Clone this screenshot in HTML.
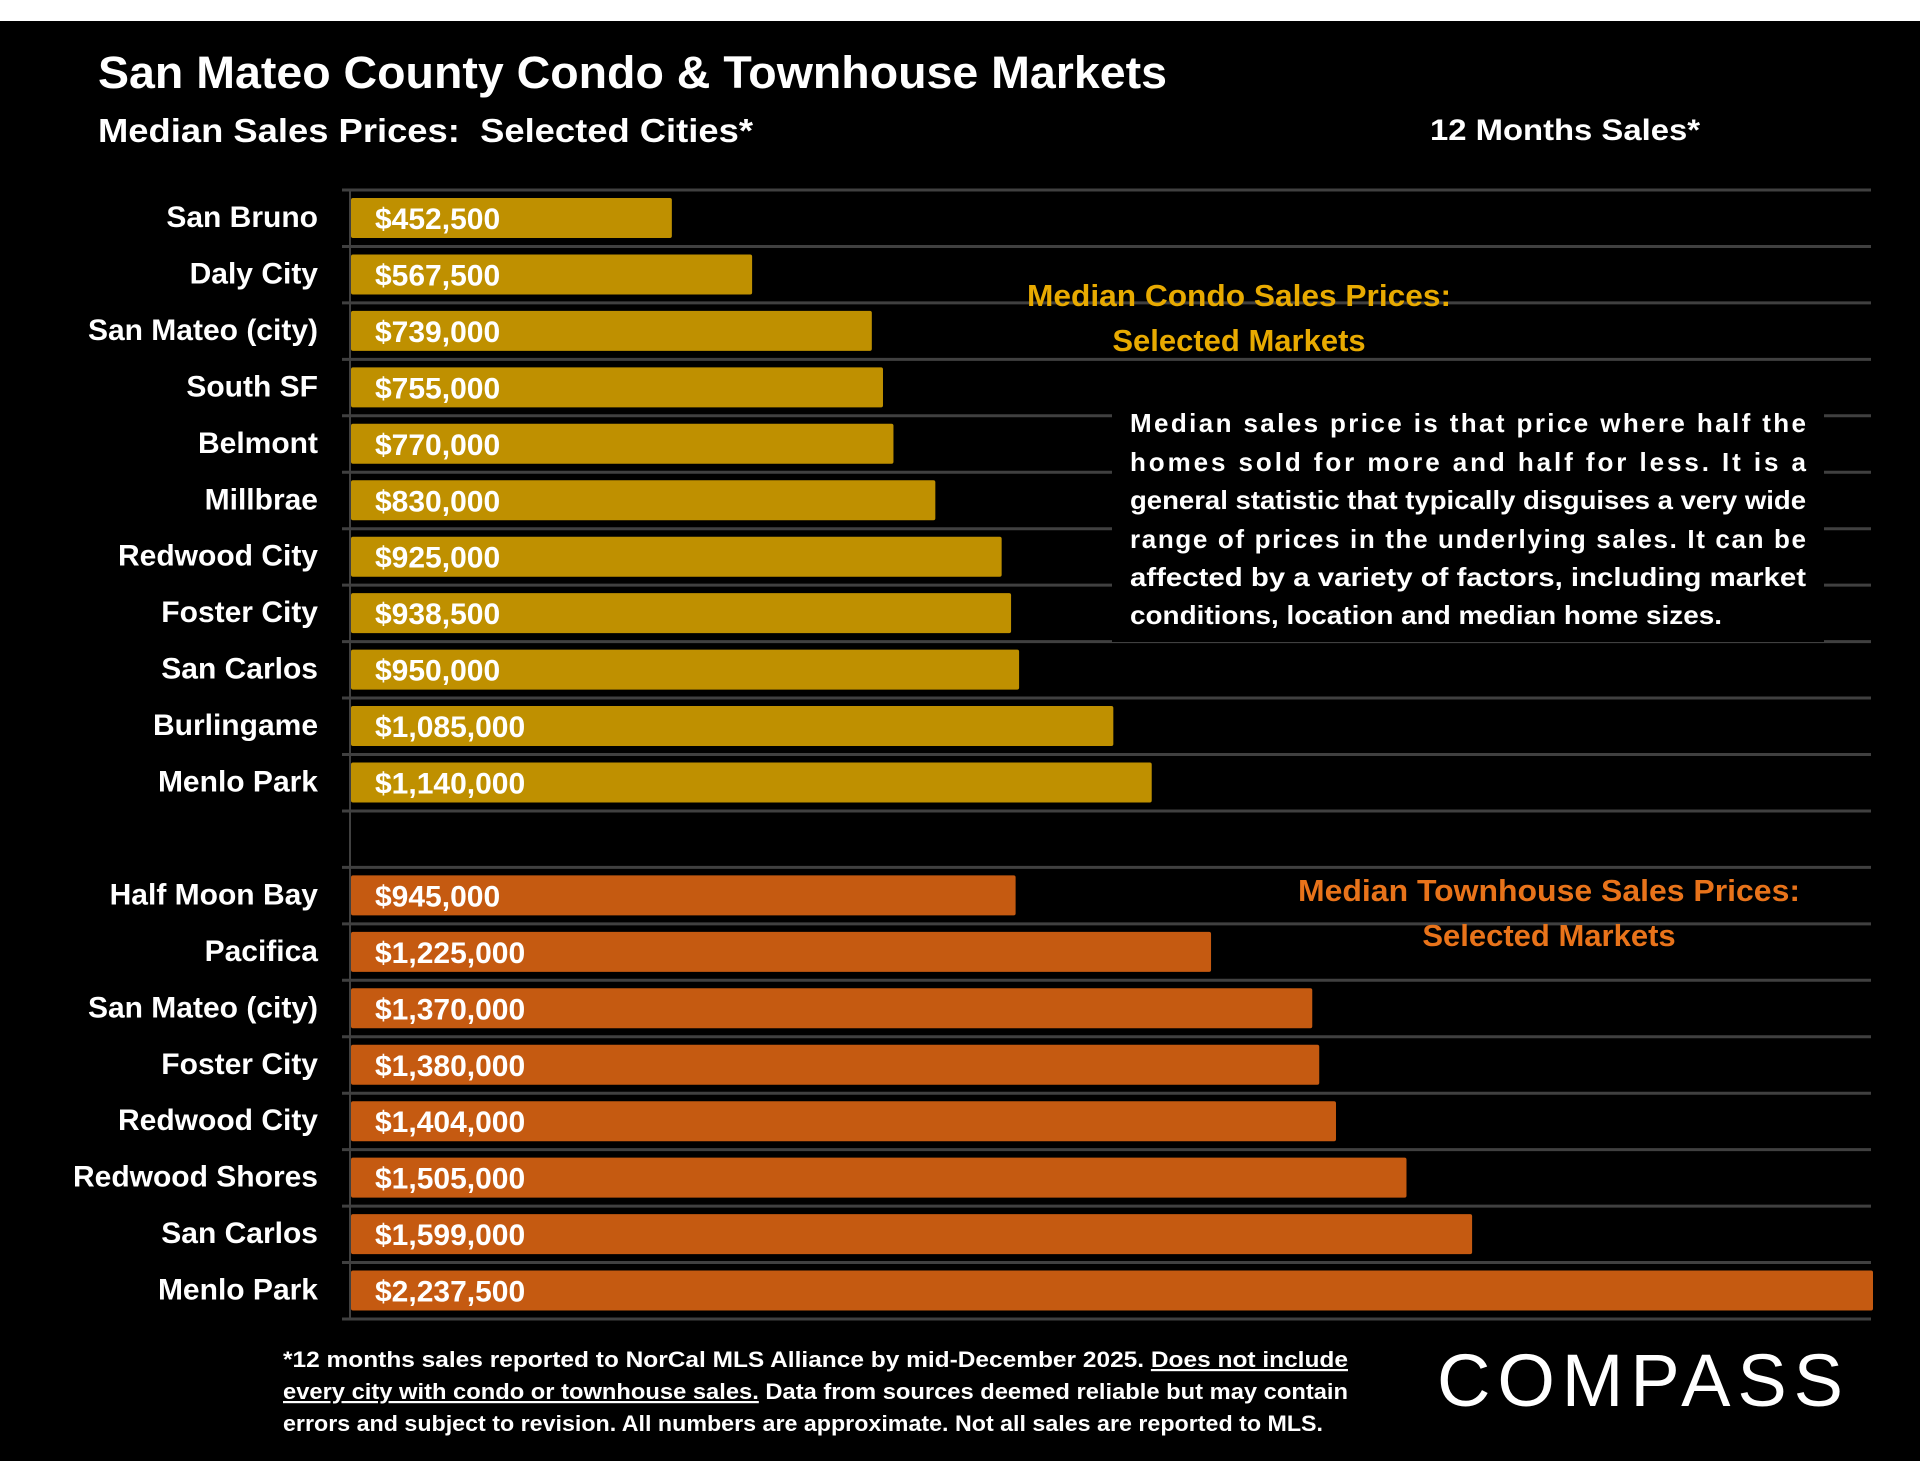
<!DOCTYPE html>
<html><head><meta charset="utf-8"><style>
html,body{margin:0;padding:0;background:#fff;}
svg{display:block;}
text{font-family:"Liberation Sans",sans-serif;}
</style></head><body>
<svg id="chart" width="1920" height="1483" viewBox="0 0 1920 1483" xmlns="http://www.w3.org/2000/svg">
<rect x="0" y="0" width="1920" height="21" fill="#fff"/>
<rect x="0" y="21" width="1920" height="1440" fill="#000"/>
<rect x="0" y="1461" width="1920" height="22" fill="#fff"/>
<text x="98" y="88" fill="#fff" font-size="45" font-weight="bold" textLength="1069" lengthAdjust="spacingAndGlyphs">San Mateo County Condo &amp; Townhouse Markets</text>
<text x="98" y="142" fill="#fff" font-size="33" font-weight="bold" textLength="655" lengthAdjust="spacingAndGlyphs" xml:space="preserve">Median Sales Prices:  Selected Cities*</text>
<text x="1430" y="140" fill="#fff" font-size="30" font-weight="bold" textLength="270" lengthAdjust="spacingAndGlyphs">12 Months Sales*</text>
<g id="grid"></g>
<g id="bars"></g>
<rect x="1112" y="400" width="712" height="242" fill="#000"/>
<line x1="350" y1="190" x2="350" y2="1320" stroke="#404040" stroke-width="2"/>
<g id="cats"></g>
<g fill="#E8AA00" font-size="31" font-weight="bold" text-anchor="middle">
<text x="1239" y="306" textLength="424" lengthAdjust="spacingAndGlyphs">Median Condo Sales Prices:</text>
<text x="1239" y="351">Selected Markets</text>
</g>
<g fill="#E8731A" font-size="31" font-weight="bold" text-anchor="middle">
<text x="1549" y="901" textLength="502" lengthAdjust="spacingAndGlyphs">Median Townhouse Sales Prices:</text>
<text x="1549" y="946">Selected Markets</text>
</g>
<g fill="#fff" font-size="26" font-weight="bold">
<text x="1130" y="432" textLength="676" lengthAdjust="spacing">Median sales price is that price where half the</text>
<text x="1130" y="471" textLength="676" lengthAdjust="spacing">homes sold for more and half for less. It is a</text>
<text x="1130" y="509" textLength="676" lengthAdjust="spacingAndGlyphs">general statistic that typically disguises a very wide</text>
<text x="1130" y="548" textLength="676" lengthAdjust="spacing">range of prices in the underlying sales. It can be</text>
<text x="1130" y="586" textLength="676" lengthAdjust="spacingAndGlyphs">affected by a variety of factors, including market</text>
<text x="1130" y="624" textLength="592" lengthAdjust="spacingAndGlyphs">conditions, location and median home sizes.</text>
</g>
<g fill="#fff" font-size="22" font-weight="bold">
<text x="283" y="1367" textLength="1065" lengthAdjust="spacingAndGlyphs">*12 months sales reported to NorCal MLS Alliance by mid-December 2025. <tspan text-decoration="underline">Does not include</tspan></text>
<text x="283" y="1399" textLength="1065" lengthAdjust="spacingAndGlyphs"><tspan text-decoration="underline">every city with condo or townhouse sales.</tspan> Data from sources deemed reliable but may contain</text>
<text x="283" y="1431" textLength="1040" lengthAdjust="spacingAndGlyphs">errors and subject to revision. All numbers are approximate. Not all sales are reported to MLS.</text>
</g>
<text x="1437" y="1406" fill="#fff" font-size="74" textLength="406" lengthAdjust="spacing">COMPASS</text>
</svg>
<script>
const condoCities = ["San Bruno","Daly City","San Mateo (city)","South SF","Belmont","Millbrae","Redwood City","Foster City","San Carlos","Burlingame","Menlo Park"];
const condoValues = [452500,567500,739000,755000,770000,830000,925000,938500,950000,1085000,1140000];
const townCities = ["Half Moon Bay","Pacifica","San Mateo (city)","Foster City","Redwood City","Redwood Shores","San Carlos","Menlo Park"];
const townValues = [945000,1225000,1370000,1380000,1404000,1505000,1599000,2237500];

const NS="http://www.w3.org/2000/svg";
const top0=190, rowH=56.45, plotL=350, plotR=1873;
function xScale(v){return Math.min(plotR, 356 + v*0.000698);}
function rowY(i){return top0 + i*rowH;}
function fmt(v){return "$"+v.toLocaleString("en-US");}
const grid=document.getElementById("grid"), bars=document.getElementById("bars"), cats=document.getElementById("cats");
for(let i=0;i<=20;i++){
  const l=document.createElementNS(NS,"line");
  l.setAttribute("x1",342);l.setAttribute("x2",1871);
  l.setAttribute("y1",rowY(i));l.setAttribute("y2",rowY(i));
  l.setAttribute("stroke","#404040");l.setAttribute("stroke-width","3");
  
  
  grid.appendChild(l);
}
function drawSeries(names, vals, startRow, color, kind){
  names.forEach((n,i)=>{
    const y=rowY(startRow+i);
    const r=document.createElementNS(NS,"rect");
    r.setAttribute("x",plotL+1);r.setAttribute("y",y+8);
    r.setAttribute("width",xScale(vals[i])-plotL-1);r.setAttribute("height",40);
    r.setAttribute("rx",2);r.setAttribute("fill",color);
    
    
    bars.appendChild(r);
    const t=document.createElementNS(NS,"text");
    t.setAttribute("x",375);t.setAttribute("y",y+39);
    t.setAttribute("fill","#fff");t.setAttribute("font-size","30");t.setAttribute("font-weight","bold");
    t.textContent=fmt(vals[i]);
    
    
    bars.appendChild(t);
    const c=document.createElementNS(NS,"text");
    c.setAttribute("x",318);c.setAttribute("y",y+37);
    c.setAttribute("fill","#fff");c.setAttribute("font-size","30");c.setAttribute("font-weight","bold");
    c.setAttribute("text-anchor","end");
    c.textContent=n;
    
    
    cats.appendChild(c);
  });
}
drawSeries(condoCities, condoValues, 0, "#BF9000", "condo");
drawSeries(townCities, townValues, 12, "#C55A11", "townhouse");
</script>
</body></html>
